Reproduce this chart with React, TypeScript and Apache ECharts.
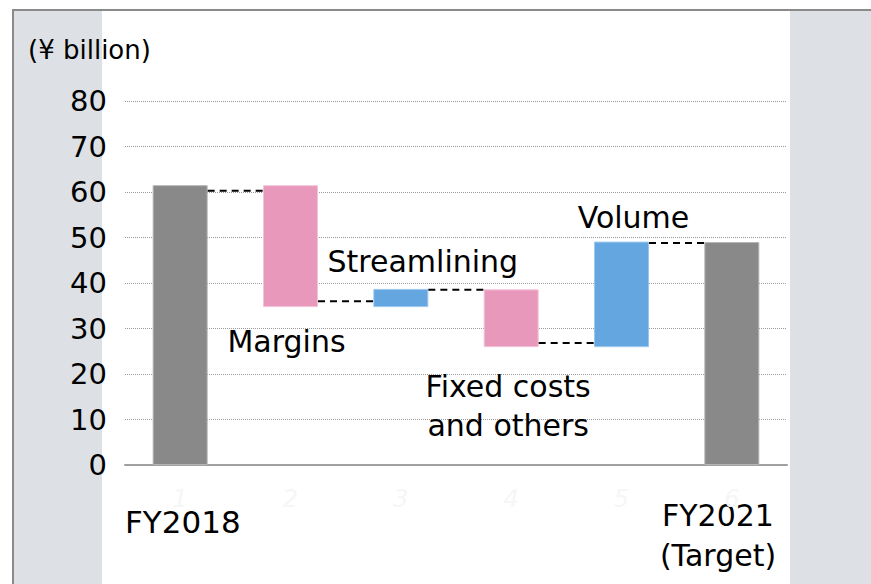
import React, { useEffect, useRef } from "react";
import * as echarts from "echarts";

// ---- data ----
const categories = ["FY2018", "Margins", "Streamlining", "Fixed costs and others", "Volume", "FY2021 (Target)"];
const tickLabels = ["1", "2", "3", "4", "5", "6"];
const barStart = [0, 34.7, 34.7, 25.9, 25.9, 0];
const barEnd = [61.5, 61.5, 38.7, 38.6, 49.1, 49.0];
const barKind = ["total", "down", "up", "down", "up", "total"];
const connectorValues = [60.3, 36.0, 38.5, 26.8, 48.8];
const yTicks = [0, 10, 20, 30, 40, 50, 60, 70, 80];

const FONT = "DejaVu Sans";
const COLORS: Record<string, string> = { total: "#898989", down: "#e898bb", up: "#63a6e0" };
const BORDERS: Record<string, string> = { total: "#b5b5b5", down: "#f2c3d8", up: "#9cc6ec" };

const labelCfg: Record<number, any> = {
  1: { show: true, position: "bottom", offset: [-4, 14], formatter: "Margins" },
  2: { show: true, position: "top", offset: [22, -7], formatter: "Streamlining" },
  3: { show: true, position: "bottom", offset: [-3, 15], formatter: "Fixed costs\nand others", lineHeight: 39 },
  4: { show: true, position: "top", offset: [12, -4], formatter: "Volume" },
};

export default function App() {
  const ref = useRef<HTMLDivElement>(null);
  useEffect(() => {
    if (!ref.current) return;
    const chart = echarts.init(ref.current, null, { renderer: "svg" });
    const W = 871, H = 584;
    const option: any = {
      animation: false,
      backgroundColor: "#ffffff",
      textStyle: { fontFamily: FONT },
      graphic: [
        { type: "rect", z: -10, silent: true, shape: { x: 13, y: 10, width: 89, height: H - 10 }, style: { fill: "#dde1e5" } },
        { type: "rect", z: -10, silent: true, shape: { x: 790, y: 10, width: W - 790, height: H - 10 }, style: { fill: "#dde1e5" } },
        { type: "line", z: 10, silent: true, shape: { x1: 12, y1: 10, x2: W, y2: 10 }, style: { stroke: "#8a8a8a", lineWidth: 2 } },
        { type: "line", z: 10, silent: true, shape: { x1: 13, y1: 9, x2: 13, y2: H }, style: { stroke: "#8a8a8a", lineWidth: 2 } },
        { type: "text", left: 28, top: 37, style: { text: "(¥ billion)", font: `26px "${FONT}"`, fill: "#000" } },
        { type: "text", x: 125, y: 522, style: { text: "FY2018", font: `31px "${FONT}"`, fill: "#000", textAlign: "left", textVerticalAlign: "middle" } },
        { type: "text", x: 718, y: 535, style: { text: "FY2021\n(Target)", font: `30px "${FONT}"`, lineHeight: 40, fill: "#000", textAlign: "center", textVerticalAlign: "middle" } },
      ],
      grid: { left: 125, right: W - 787, top: 101, bottom: H - 465, containLabel: false },
      xAxis: {
        type: "category",
        data: categories,
        axisLine: { show: true, lineStyle: { color: "#a0a0a0", width: 2 } },
        axisTick: { show: false },
        axisLabel: {
          margin: 22,
          fontSize: 24,
          fontStyle: "italic",
          color: "#f6f6f6",
          formatter: (_v: string, i: number) => tickLabels[i],
        },
      },
      yAxis: {
        type: "value",
        min: yTicks[0],
        max: yTicks[yTicks.length - 1],
        interval: 10,
        axisLine: { show: false },
        axisTick: { show: false },
        axisLabel: { margin: 18, fontSize: 29, color: "#000", fontFamily: FONT },
        splitLine: { show: true, lineStyle: { color: "#9a9a9a", type: [1, 1], width: 1 } },
      },
      series: [
        {
          type: "bar",
          stack: "w",
          barWidth: 55,
          silent: true,
          itemStyle: { color: "transparent" },
          data: barStart,
        },
        {
          type: "bar",
          stack: "w",
          barWidth: 55,
          data: barEnd.map((e, i) => ({
            value: +(e - barStart[i]).toFixed(2),
            itemStyle: { color: COLORS[barKind[i]], borderColor: BORDERS[barKind[i]], borderWidth: 1 },
            label: labelCfg[i]
              ? { fontSize: 30, fontFamily: FONT, color: "#000", ...labelCfg[i] }
              : { show: false },
          })),
        },
        {
          type: "custom",
          silent: true,
          z: 5,
          data: connectorValues.map((v, i) => [i, v]),
          renderItem: (params: any, api: any) => {
            const i = api.value(0);
            const v = api.value(1);
            const p = api.coord([i, v]);
            const band = api.size([1, 0])[0];
            const half = 55 / 2;
            return {
              type: "line",
              shape: { x1: p[0] + half, y1: p[1], x2: p[0] + band - half, y2: p[1] },
              style: { stroke: "#000", lineWidth: 2, lineDash: [7, 5] },
            };
          },
        },
      ],
    };
    chart.setOption(option);
    return () => chart.dispose();
  }, []);
  return <div ref={ref} style={{ position: "fixed", left: 0, top: 0, width: 871, height: 584 }} />;
}
